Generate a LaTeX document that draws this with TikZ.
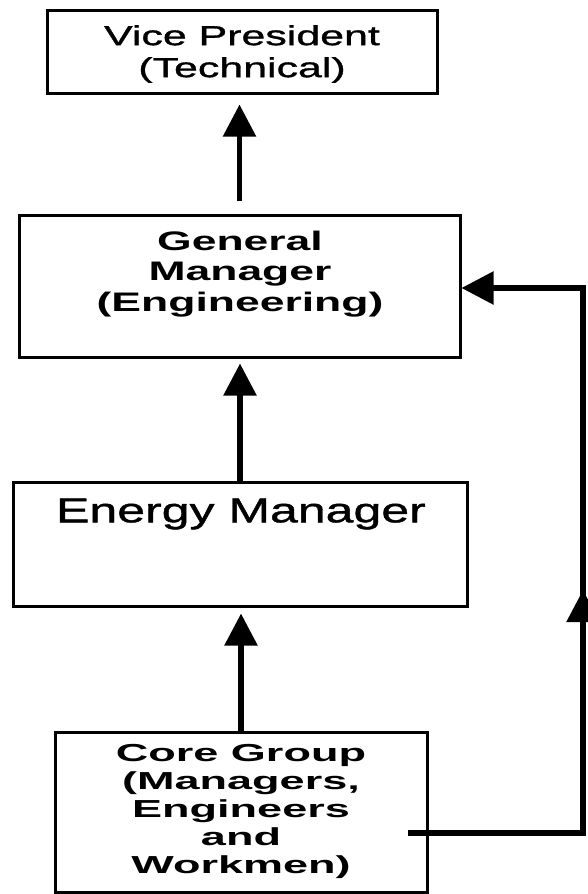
\documentclass[tikz,border=0pt]{standalone}
\usepackage{fontspec}
\setmainfont{Liberation Sans}
\newfontfamily\vpfont[FakeStretch=1.56,FakeBold=1.2]{Liberation Sans}
\newfontfamily\gmfont[FakeStretch=1.66]{Liberation Sans}
\newfontfamily\emfont[FakeStretch=1.45,FakeBold=1.2]{Liberation Sans}
\newfontfamily\cgfont[FakeStretch=1.83]{Liberation Sans}
\usetikzlibrary{arrows.meta,positioning}

\tikzset{
  box/.style={draw, line width=3pt, inner sep=0pt},
  boxtext/.style={inner sep=0pt, align=center},
  flow/.style={line width=5.5pt, -{Triangle[length=32pt,width=32pt]}},
}

\begin{document}
\begin{tikzpicture}[x=1pt, y=-1pt]
\useasboundingbox (0,0) rectangle (588,894);

\node[box, minimum width=390pt, minimum height=83pt] (vp) at (242,51.5) {};
\node[boxtext, font=\vpfont\fontsize{27.5}{32}\selectfont] (vp-text) at (242,54)
  {Vice President\\(Technical)};

\node[box, minimum width=441pt, minimum height=142pt] (gm) at (239.5,286) {};
\node[boxtext, font=\gmfont\bfseries\fontsize{26.8}{30.5}\selectfont] (gm-text) at (240,274)
  {General\\Manager\\(Engineering)};

\node[box, minimum width=454pt, minimum height=124pt] (em) at (240,544) {};
\node[boxtext, font=\emfont\fontsize{34.5}{40}\selectfont] (em-text) at (241,514)
  {Energy Manager};

\node[box, minimum width=372pt, minimum height=160pt] (cg) at (241,812) {};
\node[boxtext, font=\cgfont\bfseries\fontsize{24.6}{28}\selectfont] (cg-text) at (241,811)
  {Core Group\\(Managers,\\Engineers\\and\\Workmen)};

% upward chain
\draw[flow, shorten <=13pt, shorten >=10pt] (gm.north) -- (gm.north |- vp.south);
\draw[flow, shorten >=5pt] (em.north) -- (em.north |- gm.south);
\draw[flow, shorten >=6pt] (cg.north) -- (cg.north |- em.south);

% feedback loop
\coordinate (fb-a) at (408,833);
\coordinate (fb-b) at (583,833);
\coordinate (fb-c) at (583,288);
\coordinate (fb-m) at (583,590);
\draw[flow] (fb-a) -- (fb-b) -- (fb-c) -- (fb-c -| gm.east);
\draw[flow] (fb-b) -- (fb-m);

\end{tikzpicture}
\end{document}
